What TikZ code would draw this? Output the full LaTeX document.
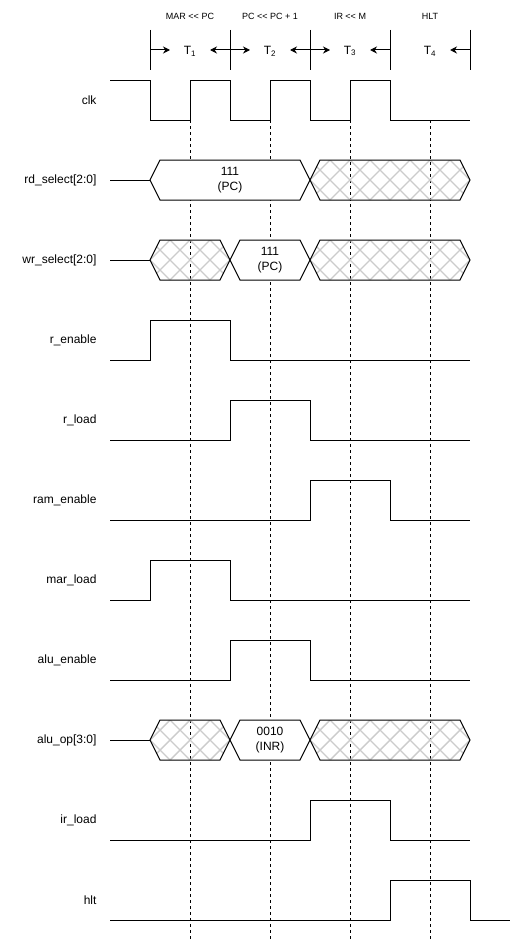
\documentclass[tikz,border=0pt]{standalone}
\usepackage{fontspec}
\setmainfont{Liberation Sans}
\usetikzlibrary{arrows.meta}
\tikzset{sig/.style={line width=1pt},
  grid/.style={line width=0.8pt,dash pattern=on 3pt off 3pt},
  hatch/.style={gray!40,line width=1.4pt},
  signame/.style={anchor=east,font=\fontsize{12}{14}\selectfont},
  phase/.style={font=\fontsize{9}{11}\selectfont},
  tlab/.style={font=\fontsize{12}{14}\selectfont},
  busval/.style={align=center,font=\fontsize{12}{15}\selectfont}}
% bus with a value: x1, x2, centre y, node name, text
\newcommand{\busv}[5]{%
  \draw[sig,fill=white] (#1,#3) -- (#1+10,#3-20) -- (#2-10,#3-20) -- (#2,#3) -- (#2-10,#3+20) -- (#1+10,#3+20) -- cycle;
  \node[busval] (#4) at ({(#1+#2)/2},#3) {#5};}
% bus with don't care: x1, x2, centre y
\newcommand{\busx}[3]{%
  \begin{scope}
    \clip (#1,#3) -- (#1+10,#3-20) -- (#2-10,#3-20) -- (#2,#3) -- (#2-10,#3+20) -- (#1+10,#3+20) -- cycle;
    \foreach \k in {-2,...,16} {
      \draw[hatch] ({#1+20*\k},#3-20) -- ++(40,40);
      \draw[hatch] ({#1+20*\k},#3+20) -- ++(40,-40);}
  \end{scope}
  \draw[sig] (#1,#3) -- (#1+10,#3-20) -- (#2-10,#3-20) -- (#2,#3) -- (#2-10,#3+20) -- (#1+10,#3+20) -- cycle;}
\newcommand{\shl}{{<}{<}}

\begin{document}
\begin{tikzpicture}[x=1pt,y=-1pt,>={Stealth[length=7pt,width=7pt]},line join=miter]
\useasboundingbox[fill=white] (0,0) rectangle (512,942);
% --- grid
\foreach \x in {190,270,350,430} \draw[grid] (\x,120) -- (\x,942);
% --- header
\foreach \x in {150,230,310,390,470} \draw[sig] (\x,30) -- (\x,70);
\foreach \x in {150,230,310} \draw[->,sig] (\x,50) -- ++(20,0);
\foreach \x in {230,310,390,470} \draw[->,sig] (\x,50) -- ++(-20,0);
\node[phase] (p1) at (190,16) {MAR \shl\ PC};
\node[phase] (p2) at (270,16) {PC \shl\ PC + 1};
\node[phase] (p3) at (350,16) {IR \shl\ M};
\node[phase] (p4) at (430,16) {HLT};
\node[tlab] (t1) at (190,51) {T\textsubscript{1}};
\node[tlab] (t2) at (270,51) {T\textsubscript{2}};
\node[tlab] (t3) at (350,51) {T\textsubscript{3}};
\node[tlab] (t4) at (430,51) {T\textsubscript{4}};
% --- signal names
\foreach \n/\s [count=\i from 0] in {clk/clk,rd/rd\_select[2:0],wr/wr\_select[2:0],ren/r\_enable,rld/r\_load,ram/ram\_enable,mar/mar\_load,alu/alu\_enable,op/alu\_op[3:0],ir/ir\_load,hlt/hlt}
  \node[signame] (\n) at (100,100+80*\i) {\s};
% --- clk
\draw[sig] (110,80) -| (150,120) -| (190,80) -| (230,120) -| (270,80) -| (310,120) -| (350,80) -| (390,120) -- (470,120);
% --- rd_select, wr_select
\draw[sig] (110,180) -- (150,180); \busv{150}{310}{180}{rdv}{111\\(PC)} \busx{310}{470}{180}
\draw[sig] (110,260) -- (150,260); \busx{150}{230}{260} \busv{230}{310}{260}{wrv}{111\\(PC)} \busx{310}{470}{260}
% --- control lines
\draw[sig] (110,360) -| (150,320) -| (230,360) -- (470,360); % r_enable
\draw[sig] (110,440) -| (230,400) -| (310,440) -- (470,440); % r_load
\draw[sig] (110,520) -| (310,480) -| (390,520) -- (470,520); % ram_enable
\draw[sig] (110,600) -| (150,560) -| (230,600) -- (470,600); % mar_load
\draw[sig] (110,680) -| (230,640) -| (310,680) -- (470,680); % alu_enable
% --- alu_op
\draw[sig] (110,740) -- (150,740); \busx{150}{230}{740} \busv{230}{310}{740}{opv}{0010\\(INR)} \busx{310}{470}{740}
% --- ir_load, hlt
\draw[sig] (110,840) -| (310,800) -| (390,840) -- (470,840);
\draw[sig] (110,920) -| (390,880) -| (470,920) -- (510,920);
\end{tikzpicture}
\end{document}
